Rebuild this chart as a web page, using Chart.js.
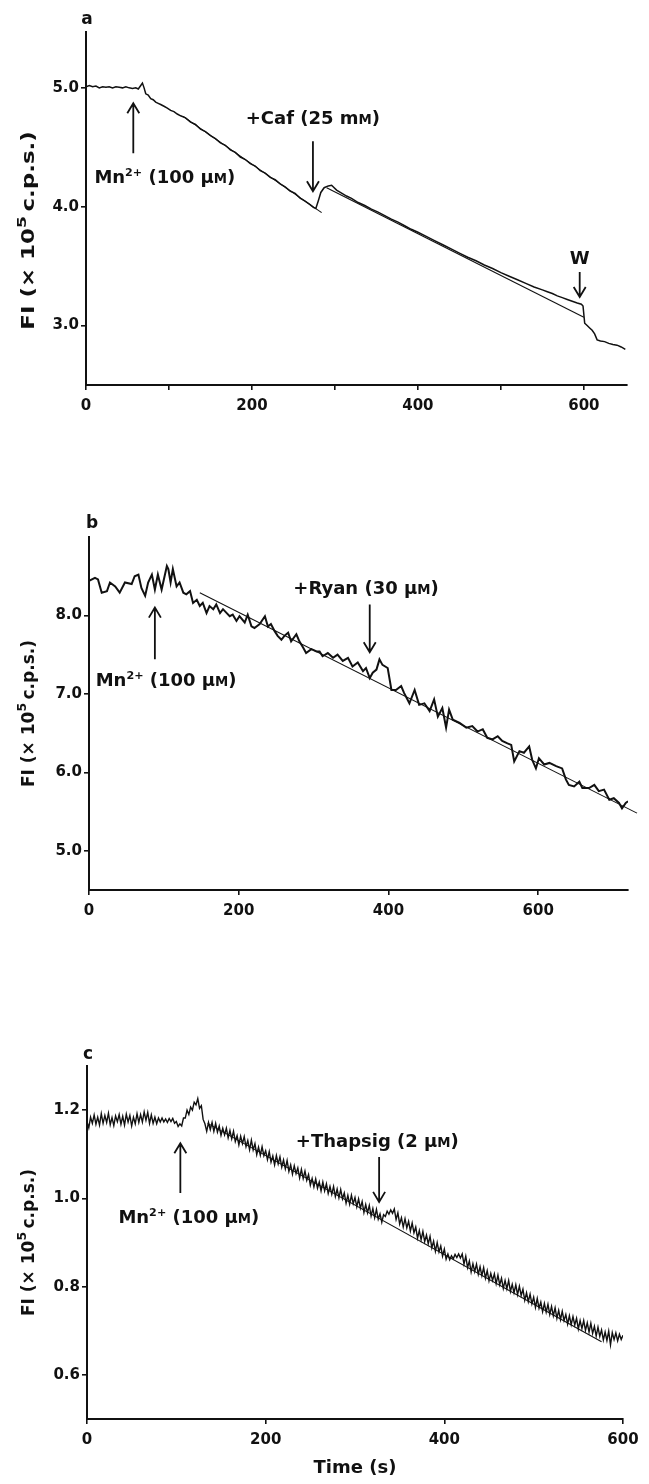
<!DOCTYPE html>
<html>
<head>
<meta charset="utf-8">
<script src="https://cdn.jsdelivr.net/npm/chart.js@4.4.1/dist/chart.umd.min.js"></script>
<style>
  body { margin: 0; background: #fff; }
  #wrap { position: relative; width: 649px; height: 1484px; }
  canvas { position: absolute; left: 0; }
</style>
</head>
<body>
<div id="wrap">
  <canvas id="chartA" width="649" height="440" style="top:0;width:649px;height:440px"></canvas>
  <canvas id="chartB" width="649" height="500" style="top:440px;width:649px;height:500px"></canvas>
  <canvas id="chartC" width="649" height="544" style="top:940px;width:649px;height:544px"></canvas>
</div>
<script>
// ---- panel a : caffeine ----
var timeA = [0,4,8,12,16,20,24,28,32,36, 40,44,48,52,56,60,63,66,68,70, 72,75,78,81,84,87,90,94,98,102,
  106,110,114,120,126,132,138,144,150,156, 162,168,174,180,186,192,198,204,210,216, 222,228,234,240,246,252,258,264,270,274,
  277,280,283,287,292,296,302,308,314,320, 328,336,344,352,360,368,376,384,392,400, 410,420,430,440,450,460,470,480,490,500,
  510,520,530,540,550,556,562,568,574,580, 586,592,597,599,601,604,607,610,613,616, 620,625,630,635,640,645,650];
var fluoA = [5.01,5.02,5.01,5.015,5.00,5.01,5.005,5.01,5.00,5.01,
  5.005,5.00,5.01,5.00,4.995,5.00,4.99,5.02,5.04,5.00,
  4.95,4.94,4.91,4.90,4.88,4.87,4.86,4.845,4.83,4.81,
  4.80,4.78,4.765,4.748,4.712,4.692,4.652,4.632,4.598,4.572,
  4.537,4.517,4.478,4.457,4.418,4.397,4.362,4.342,4.303,4.282,
  4.247,4.227,4.192,4.167,4.132,4.112,4.072,4.047,4.018,3.995,
  3.985,4.05,4.12,4.16,4.175,4.18,4.14,4.115,4.09,4.07,
  4.035,4.01,3.98,3.955,3.925,3.895,3.87,3.84,3.81,3.785,
  3.75,3.715,3.68,3.645,3.61,3.575,3.545,3.51,3.48,3.445,
  3.415,3.385,3.355,3.325,3.30,3.285,3.27,3.25,3.235,3.22,
  3.205,3.19,3.18,3.165,3.02,3.00,2.98,2.96,2.93,2.88,
  2.87,2.865,2.85,2.84,2.835,2.82,2.80];
var fitA1Time = [117, 284];
var fitA1Fluo = [4.76, 3.95];
var fitA2Time = [290, 600];
var fitA2Fluo = [4.16, 3.07];
var xTicksA = [0,100,200,300,400,500,600];
var xLabelsA = [0,200,400,600];
var yTicksA = [3.0,4.0,5.0];

// ---- panel b : ryanodine ----
var timeB = [0,8,12,17,24,28,35,41,48,57,61,66,70,75,79,84,88,92,97,104,106,109,112,117,121,126,130,135,139,144,148,152,157,161,166,170,175,179,184,188,192,197,201,208,212,217,221,228,235,239,243,248,252,257,261,266,270,277,281,286,290,297,304,308,312,319,326,332,339,346,352,359,366,370,375,379,384,388,392,399,404,410,417,421,428,435,441,448,455,461,466,472,477,481,486,495,504,512,519,526,532,539,546,552,559,564,568,575,581,588,592,597,601,608,615,624,632,637,641,648,655,659,668,675,681,688,695,701,708,712,717,720];
var fluoB = [8.44,8.48,8.46,8.29,8.31,8.42,8.37,8.29,8.42,8.40,8.50,8.52,8.35,8.25,8.42,8.52,8.33,8.52,8.33,8.63,8.59,8.42,8.59,8.37,8.42,8.29,8.27,8.31,8.16,8.20,8.12,8.16,8.03,8.12,8.08,8.14,8.03,8.08,8.03,7.99,8.01,7.93,7.99,7.91,8.01,7.86,7.84,7.89,7.99,7.86,7.89,7.80,7.74,7.69,7.74,7.78,7.67,7.76,7.67,7.59,7.52,7.57,7.54,7.54,7.48,7.52,7.46,7.50,7.42,7.46,7.35,7.40,7.29,7.33,7.20,7.27,7.31,7.44,7.37,7.33,7.05,7.05,7.10,7.01,6.88,7.05,6.86,6.88,6.78,6.93,6.71,6.82,6.57,6.80,6.67,6.63,6.57,6.59,6.52,6.55,6.44,6.42,6.46,6.40,6.37,6.35,6.14,6.27,6.25,6.33,6.16,6.05,6.18,6.10,6.12,6.08,6.05,5.91,5.84,5.82,5.88,5.80,5.80,5.84,5.76,5.78,5.65,5.67,5.61,5.54,5.61,5.63];
var fitBTime = [148, 732];
var fitBFluo = [8.29, 5.48];
var xTicksB = [0,200,400,600];
var yTicksB = [5.0,6.0,7.0,8.0];

// ---- panel c : thapsigargin ----
var timeC = [0,2,4,6,8,10,12,14,16,18, 20,22,24,26,28,30,32,34,36,38, 40,42,44,46,48,50,52,54,56,58,
  60,62,64,66,68,70,72,74,76,78, 80,82,84,86,88,90,92,94,96,98, 100,102,104,106,108,110,112,114,116,118,
  120,122,124,126,128,130,132,134,136,138, 140,142,144,146,148,150,152,154,156,158, 160,162,164,166,168,170,172,174,176,178,
  180,182,184,186,188,190,192,194,196,198, 200,202,204,206,208,210,212,214,216,218, 220,222,224,226,228,230,232,234,236,238,
  240,242,244,246,248,250,252,254,256,258, 260,262,264,266,268,270,272,274,276,278, 280,282,284,286,288,290,292,294,296,298,
  300,302,304,306,308,310,312,314,316,318, 320,322,324,326,328,330,332,334,336,338, 340,342,344,346,348,350,352,354,356,358,
  360,362,364,366,368,370,372,374,376,378, 380,382,384,386,388,390,392,394,396,398, 400,402,404,406,408,410,412,414,416,418,
  420,422,424,426,428,430,432,434,436,438, 440,442,444,446,448,450,452,454,456,458, 460,462,464,466,468,470,472,474,476,478,
  480,482,484,486,488,490,492,494,496,498, 500,502,504,506,508,510,512,514,516,518, 520,522,524,526,528,530,532,534,536,538,
  540,542,544,546,548,550,552,554,556,558, 560,562,564,566,568,570,572,574,576,578, 580,582,584,586,588,590,592,594,596,598,
  600];
var fluoC = [1.174,1.160,1.184,1.170,1.189,1.168,1.184,1.166,1.192,1.170,
  1.188,1.172,1.193,1.167,1.183,1.165,1.187,1.174,1.190,1.168,
  1.186,1.166,1.191,1.173,1.188,1.164,1.184,1.169,1.192,1.172,
  1.190,1.173,1.196,1.177,1.195,1.170,1.189,1.170,1.184,1.169,
  1.182,1.173,1.182,1.173,1.180,1.172,1.181,1.174,1.181,1.170,
  1.174,1.163,1.169,1.164,1.182,1.182,1.200,1.190,1.207,1.200,
  1.218,1.212,1.226,1.204,1.210,1.179,1.169,1.152,1.172,1.156,
  1.172,1.152,1.170,1.150,1.164,1.143,1.159,1.144,1.159,1.137,
  1.154,1.135,1.152,1.129,1.142,1.121,1.141,1.124,1.140,1.117,
  1.131,1.110,1.132,1.110,1.124,1.099,1.116,1.098,1.117,1.097,
  1.108,1.088,1.106,1.082,1.096,1.076,1.097,1.078,1.094,1.071,
  1.087,1.067,1.086,1.061,1.076,1.055,1.074,1.056,1.069,1.046,
  1.066,1.045,1.062,1.041,1.054,1.030,1.045,1.026,1.044,1.023,
  1.037,1.017,1.037,1.017,1.033,1.011,1.027,1.009,1.027,1.004,
  1.021,1.001,1.020,0.999,1.012,0.989,1.007,0.987,1.007,0.988,
  1.002,0.981,0.999,0.978,0.993,0.968,0.986,0.967,0.984,0.960,
  0.977,0.956,0.975,0.953,0.965,0.946,0.963,0.959,0.971,0.964,
  0.974,0.966,0.976,0.952,0.967,0.942,0.956,0.935,0.954,0.933,
  0.948,0.926,0.944,0.922,0.935,0.910,0.927,0.906,0.925,0.902,
  0.917,0.897,0.914,0.888,0.903,0.880,0.900,0.879,0.892,0.869,
  0.885,0.862,0.874,0.861,0.870,0.863,0.873,0.866,0.874,0.865,
  0.874,0.851,0.869,0.843,0.858,0.833,0.852,0.834,0.851,0.828,
  0.845,0.825,0.843,0.819,0.836,0.813,0.830,0.814,0.829,0.807,
  0.826,0.804,0.819,0.796,0.814,0.795,0.814,0.789,0.805,0.786,
  0.804,0.782,0.801,0.780,0.794,0.769,0.786,0.766,0.783,0.761,
  0.776,0.753,0.773,0.751,0.765,0.743,0.762,0.742,0.760,0.737,
  0.755,0.734,0.752,0.728,0.746,0.725,0.744,0.723,0.737,0.715,
  0.734,0.714,0.732,0.713,0.728,0.704,0.723,0.705,0.723,0.701,
  0.718,0.697,0.717,0.694,0.710,0.688,0.708,0.687,0.702,0.679,
  0.697,0.678,0.699,0.668,0.696,0.680,0.695,0.677,0.692,0.680,
  0.690];
var fitCTime = [135, 576];
var fitCFluo = [1.17, 0.675];
var xTicksC = [0,200,400,600];
var yTicksC = [0.6,0.8,1.0,1.2];

var FONT = '"DejaVu Sans", sans-serif';
var INK = '#111';

Chart.defaults.font.family = FONT;
Chart.defaults.font.weight = 'bold';
Chart.defaults.color = INK;

var MN_TEXT = [['Mn',1,0],['2+',0.62,0.42],[' (100 \u03bc',1,0],['M',0.74,0],[')',1,0]];
var Y_TITLE = [['FI (\u00d7 10',1,0],['5',0.74,0.45],['\u2009c.p.s.)',1,0]];

function pts(t, v) {
  return t.map(function (x, i) { return { x: x, y: v[i] }; });
}

function richText(ctx, runs, x, y, size) {
  var w = 0;
  runs.forEach(function (r) {
    ctx.font = 'bold ' + (size * r[1]) + 'px ' + FONT;
    w += ctx.measureText(r[0]).width;
  });
  var cx = x - w / 2, base = y + size * 0.36;
  runs.forEach(function (r) {
    ctx.font = 'bold ' + (size * r[1]) + 'px ' + FONT;
    ctx.fillText(r[0], cx, base - size * r[2]);
    cx += ctx.measureText(r[0]).width;
  });
}

function arrow(ctx, x, y0, y1) {
  var dir = y1 > y0 ? 1 : -1;
  ctx.beginPath();
  ctx.moveTo(x, y0);
  ctx.lineTo(x, y1);
  ctx.moveTo(x - 6, y1 - dir * 10);
  ctx.lineTo(x, y1);
  ctx.lineTo(x + 6, y1 - dir * 10);
  ctx.stroke();
}

var notesPlugin = {
  id: 'notes',
  afterDraw: function (chart, args, o) {
    var ctx = chart.ctx, xs = chart.scales.x, ys = chart.scales.y, a = chart.chartArea;
    ctx.save();
    ctx.fillStyle = INK;
    ctx.strokeStyle = INK;
    ctx.lineWidth = 1.8;
    ctx.textAlign = 'left';
    ctx.textBaseline = 'alphabetic';
    richText(ctx, [[o.letter,1,0]], a.left + o.letterPos[0], a.top + o.letterPos[1], 17);
    // y title, rotated
    ctx.save();
    ctx.translate(28, (a.top + a.bottom) / 2 + o.titleShift);
    ctx.rotate(-Math.PI / 2);
    ctx.scale(o.titleStretch, 1);
    richText(ctx, Y_TITLE, 0, 0, 17);
    ctx.restore();
    o.arrows.forEach(function (r) {
      arrow(ctx, xs.getPixelForValue(r.t), ys.getPixelForValue(r.from), ys.getPixelForValue(r.to));
    });
    o.labels.forEach(function (l) {
      richText(ctx, l.runs, xs.getPixelForValue(l.t), ys.getPixelForValue(l.v), 18);
    });
    ctx.restore();
  }
};

function axisStyle() {
  return {
    grid: { drawOnChartArea: false, drawTicks: true, tickLength: 5, color: INK, lineWidth: 1.6 },
    border: { display: true, color: INK, width: 2 }
  };
}

function panel(id, p) {
  var sets = [{ data: pts(p.time, p.fluo), borderWidth: p.traceWidth }];
  p.fits.forEach(function (f) {
    sets.push({ data: pts(f[0], f[1]), borderWidth: 1.1, clip: false });
  });
  sets.forEach(function (s) {
    s.borderColor = INK; s.pointRadius = 0; s.tension = 0; s.fill = false;
  });
  var xAxis = Object.assign(axisStyle(), {
    type: 'linear', min: p.xMin, max: p.xMax,
    afterBuildTicks: function (s) { s.ticks = p.xTicks.map(function (v) { return { value: v }; }); },
    afterFit: function (s) { s.height = p.xHeight; },
    ticks: {
      autoSkip: false, maxRotation: 0, padding: 7, color: INK,
      font: { size: 15, weight: 'bold' },
      callback: function (v) { return p.xLabels.indexOf(v) >= 0 ? String(v) : ''; }
    },
    title: p.xTitle ? {
      display: true, text: p.xTitle, color: INK,
      font: { size: 18, weight: 'bold' }, padding: { top: 0, bottom: 5 }
    } : { display: false }
  });
  var yAxis = Object.assign(axisStyle(), {
    type: 'linear', min: p.yMin, max: p.yMax,
    afterBuildTicks: function (s) { s.ticks = p.yTicks.map(function (v) { return { value: v }; }); },
    afterFit: function (s) { s.width = p.yWidth; },
    ticks: {
      autoSkip: false, padding: 2, color: INK,
      font: { size: 15, weight: 'bold' },
      callback: function (v) { return v.toFixed(1); }
    }
  });
  return new Chart(document.getElementById(id), {
    type: 'line',
    data: { datasets: sets },
    plugins: [notesPlugin],
    options: {
      responsive: false,
      animation: false,
      layout: { padding: p.pad },
      plugins: { legend: { display: false }, tooltip: { enabled: false }, notes: p.notes },
      scales: { x: xAxis, y: yAxis }
    }
  });
}

panel('chartA', {
  time: timeA, fluo: fluoA, traceWidth: 1.5,
  fits: [[fitA1Time, fitA1Fluo], [fitA2Time, fitA2Fluo]],
  xMin: 0, xMax: 652, xTicks: xTicksA, xLabels: xLabelsA,
  yMin: 2.5, yMax: 5.47, yTicks: yTicksA,
  yWidth: 86, xHeight: 40,
  pad: { top: 32, right: 22, bottom: 15, left: 0 },
  notes: {
    letter: 'a', letterPos: [1, -14], titleShift: 22, titleStretch: 1.35,
    arrows: [{ t: 57, from: 4.45, to: 4.87 }, { t: 273.5, from: 4.55, to: 4.13 }, { t: 595, from: 3.45, to: 3.24 }],
    labels: [
      { t: 95, v: 4.25, runs: MN_TEXT },
      { t: 273.5, v: 4.75, runs: [['+Caf (25 m',1,0],['M',0.74,0],[')',1,0]] },
      { t: 595, v: 3.57, runs: [['W',1,0]] }
    ]
  }
});

panel('chartB', {
  time: timeB, fluo: fluoB, traceWidth: 2,
  fits: [[fitBTime, fitBFluo]],
  xMin: 0, xMax: 720, xTicks: xTicksB, xLabels: xTicksB,
  yMin: 4.5, yMax: 9.0, yTicks: yTicksB,
  yWidth: 89, xHeight: 40,
  pad: { top: 97, right: 21, bottom: 10, left: 0 },
  notes: {
    letter: 'b', letterPos: [3, -15], titleShift: 0, titleStretch: 1,
    arrows: [{ t: 88, from: 7.44, to: 8.10 }, { t: 375, from: 8.14, to: 7.53 }],
    labels: [
      { t: 103, v: 7.18, runs: MN_TEXT },
      { t: 370, v: 8.36, runs: [['+Ryan (30 \u03bc',1,0],['M',0.74,0],[')',1,0]] }
    ]
  }
});

panel('chartC', {
  time: timeC, fluo: fluoC, traceWidth: 1.4,
  fits: [[fitCTime, fitCFluo]],
  xMin: 0, xMax: 600, xTicks: xTicksC, xLabels: xTicksC, xTitle: 'Time (s)',
  yMin: 0.5, yMax: 1.3, yTicks: yTicksC,
  yWidth: 87, xHeight: 65,
  pad: { top: 126, right: 26, bottom: 0, left: 0 },
  notes: {
    letter: 'c', letterPos: [1, -13], titleShift: 0, titleStretch: 1,
    arrows: [{ t: 104.5, from: 1.012, to: 1.125 }, { t: 327, from: 1.094, to: 0.992 }],
    labels: [
      { t: 114, v: 0.958, runs: MN_TEXT },
      { t: 325, v: 1.132, runs: [['+Thapsig (2 \u03bc',1,0],['M',0.74,0],[')',1,0]] }
    ]
  }
});
</script>
</body>
</html>
